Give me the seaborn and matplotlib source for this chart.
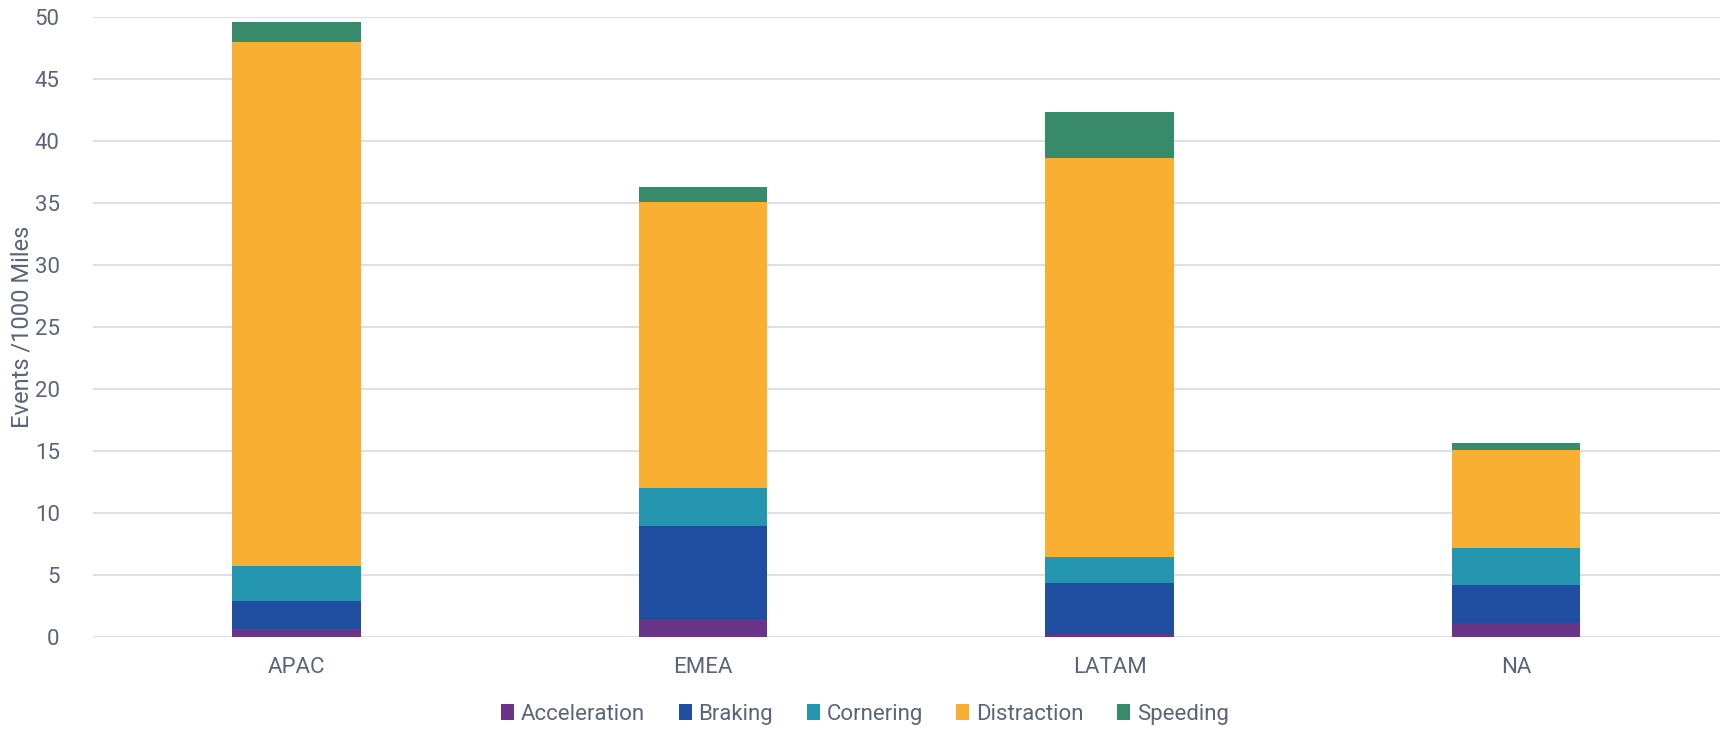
import numpy as np
import pandas as pd
import matplotlib
matplotlib.use("Agg")
import matplotlib.pyplot as plt
from matplotlib.patches import Patch
import seaborn as sns

regions = ["APAC", "EMEA", "LATAM", "NA"]
acceleration = [0.62, 1.50, 0.27, 1.15]
braking = [2.31, 7.45, 4.07, 3.02]
cornering = [2.83, 3.11, 2.13, 3.01]
distraction = [42.24, 23.04, 32.23, 7.89]
speeding = [1.60, 1.25, 3.70, 0.63]

series_names = ["Acceleration", "Braking", "Cornering", "Distraction", "Speeding"]
series_values = [acceleration, braking, cornering, distraction, speeding]
colors = ["#6A3589", "#1F4EA0", "#2596B0", "#F9B032", "#378A6A"]

text_color = "#5B6478"
grid_color = "#D9DCE3"

sns.set_theme(style="white")
plt.rcParams["font.family"] = ["Roboto", "DejaVu Sans"]

fig = plt.figure(figsize=(17.23, 7.29), dpi=100)
ax = fig.add_axes([0.054, 0.126, 0.944, 0.850])

bottoms = np.zeros(len(regions))
for name, vals, col in zip(series_names, series_values, colors):
    df = pd.DataFrame({"region": regions, "value": vals})
    sns.barplot(data=df, x="region", y="value", order=regions, color=col,
                bottom=bottoms, width=0.316, ax=ax, errorbar=None,
                saturation=1, edgecolor="none", linewidth=0, zorder=3)
    bottoms = bottoms + np.array(vals)

ax.set_xlim(-0.5, 3.5)
ax.set_ylim(0, 50)
ax.set_yticks(np.arange(0, 51, 5))
ax.yaxis.grid(True, color=grid_color, linewidth=1.3, zorder=0)
ax.xaxis.grid(False)
for s in ax.spines.values():
    s.set_visible(False)

ax.set_xlabel("")
ax.set_ylabel("Events /1000 Miles", color=text_color, fontsize=17, labelpad=1)
ax.tick_params(axis="both", length=0, colors=text_color, labelsize=16)
ax.tick_params(axis="x", pad=14)
ax.tick_params(axis="y", pad=24)

handles = [Patch(facecolor=c, edgecolor="none", label=n) for n, c in zip(series_names, colors)]
leg = fig.legend(handles=handles, loc="center", bbox_to_anchor=(0.502, 0.020),
                 ncol=5, frameon=False, fontsize=16, handlelength=0.6,
                 handleheight=0.7, handletextpad=0.3, columnspacing=1.5)
for t in leg.get_texts():
    t.set_color(text_color)

fig.savefig("out.png", dpi=100, facecolor="white")
